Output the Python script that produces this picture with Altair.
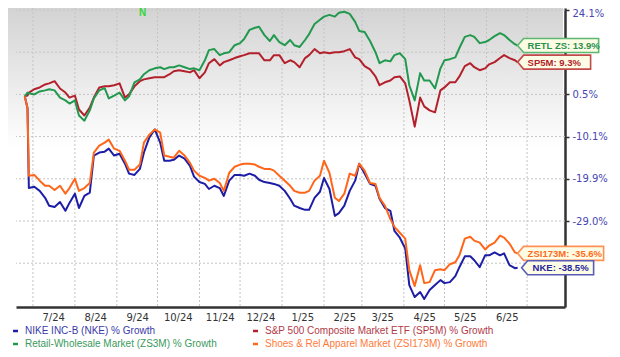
import altair as alt
import pandas as pd

# ---------------- data ----------------
DATES = [
    "2024-06-25", "2024-06-27", "2024-06-28",
    "2024-07-02", "2024-07-06", "2024-07-10", "2024-07-13", "2024-07-17", "2024-07-21", "2024-07-25", "2024-07-28",
    "2024-08-01", "2024-08-04", "2024-08-08", "2024-08-12", "2024-08-15", "2024-08-19", "2024-08-23", "2024-08-26", "2024-08-30",
    "2024-09-03", "2024-09-07", "2024-09-10", "2024-09-14", "2024-09-18", "2024-09-21", "2024-09-25", "2024-09-29",
    "2024-10-03", "2024-10-06", "2024-10-10", "2024-10-13", "2024-10-17", "2024-10-21", "2024-10-25", "2024-10-28",
    "2024-11-01", "2024-11-05", "2024-11-08", "2024-11-12", "2024-11-16", "2024-11-19", "2024-11-23", "2024-11-27",
    "2024-12-01", "2024-12-04", "2024-12-08", "2024-12-12", "2024-12-15", "2024-12-19", "2024-12-23", "2024-12-26", "2024-12-30",
    "2025-01-03", "2025-01-07", "2025-01-10", "2025-01-14", "2025-01-18", "2025-01-21", "2025-01-25", "2025-01-29",
    "2025-02-01", "2025-02-05", "2025-02-09", "2025-02-12", "2025-02-16", "2025-02-20", "2025-02-24", "2025-02-27",
    "2025-03-03", "2025-03-07", "2025-03-11", "2025-03-14", "2025-03-18", "2025-03-22", "2025-03-25", "2025-03-29",
    "2025-04-02", "2025-04-05", "2025-04-09", "2025-04-13", "2025-04-16", "2025-04-20", "2025-04-24", "2025-04-28",
    "2025-05-01", "2025-05-05", "2025-05-09", "2025-05-12", "2025-05-16", "2025-05-20", "2025-05-23", "2025-05-27", "2025-05-31",
    "2025-06-03", "2025-06-07", "2025-06-11", "2025-06-14", "2025-06-18", "2025-06-22",
    "2025-06-24",
]

ZS3M = [
    0.0, 1.0, 0.8,
    0.5, 1.3, 1.6, 1.9, 1.6, -0.3, -1.0, -1.8,
    -1.0, -4.8, -6.1, -3.5, -0.5, 1.6, 2.2, -0.5, 0.2,
    1.0, -1.0, 0.0, 3.8, 4.6, 6.0, 7.1, 7.6,
    7.9, 7.4, 7.9, 7.9, 8.4, 7.9, 7.4, 7.6,
    7.1, 9.8, 12.6, 12.9, 11.2, 11.7, 12.0, 14.0,
    14.6, 15.8, 18.4, 19.0, 19.3, 16.9, 15.2, 16.9, 14.9,
    14.0, 15.5, 14.0, 13.5, 15.5, 17.2, 20.1, 21.3,
    22.2, 22.7, 22.2, 23.3, 23.6, 23.0, 20.7, 18.1,
    17.8, 15.2, 12.0, 9.0, 9.8, 9.5, 11.2, 11.7,
    10.1, 3.0, -1.0, 6.3, 4.3, 4.3, 2.1, 7.6,
    9.8, 10.1, 10.6, 13.2, 16.4, 16.9, 16.4, 14.6, 14.9,
    15.5, 16.6, 17.5, 16.9, 15.5, 14.3,
    13.9,
]

SP5M = [
    0.0, 0.2, 1.0,
    1.9, 2.4, 3.2, 3.5, 4.1, 2.1, 1.0, -0.3,
    0.2, -3.3, -4.8, -2.8, -0.3, 2.4, 2.7, 2.7, 3.0,
    3.5, -0.3, 0.5, 2.7, 4.1, 4.6, 4.9, 5.2,
    5.2, 5.2, 6.0, 6.8, 7.1, 6.8, 6.5, 7.1,
    4.9, 6.5, 9.0, 10.1, 8.4, 9.3, 9.8, 10.4,
    10.9, 11.2, 11.7, 11.7, 11.7, 9.8, 9.8, 11.2, 11.2,
    9.0, 9.8, 9.3, 7.9, 10.4, 11.2, 12.9, 11.7,
    12.0, 11.7, 12.0, 12.0, 12.3, 12.9, 10.6, 10.1,
    8.2, 7.3, 5.4, 3.0, 3.8, 4.3, 5.2, 5.4,
    3.5, -1.0, -7.6, -0.3, -2.5, -3.5, -4.0, 1.6,
    2.4, 3.8, 3.8, 5.4, 8.2, 9.0, 7.9, 7.1, 7.6,
    8.7, 9.3, 10.4, 11.2, 10.4, 9.8,
    9.3,
]

ZSI173M = [
    0.0, -3.0, -19.2,
    -19.0, -20.3, -21.4, -21.4, -22.3, -21.4, -23.1, -21.9,
    -19.9, -22.5, -21.9, -20.8, -13.8, -12.2, -11.5, -10.8, -12.9,
    -13.4, -15.7, -17.8, -17.8, -16.6, -11.5, -9.6, -8.3,
    -9.1, -14.5, -14.8, -15.0, -13.4, -14.5, -16.2, -18.0,
    -19.2, -19.7, -20.3, -19.9, -20.8, -22.5, -18.5, -17.1,
    -16.6, -16.4, -16.4, -16.6, -17.1, -17.6, -17.6, -18.0, -19.2,
    -20.3, -21.4, -22.5, -22.9, -22.9, -22.5, -20.3, -19.2,
    -15.7, -18.5, -24.0, -24.7, -23.1, -18.7, -19.2, -16.4,
    -18.0, -20.8, -21.0, -24.0, -25.7, -28.6, -30.2, -31.4,
    -32.6, -39.0, -42.2, -38.0, -41.6, -41.4, -39.0, -38.8,
    -39.0, -37.8, -37.4, -36.0, -32.6, -32.2, -33.0, -33.4, -34.8,
    -34.0, -33.4, -32.0, -32.4, -33.6, -35.4,
    -35.6,
]

NKE = [
    0.0, -3.0, -21.9,
    -21.6, -22.5, -24.0, -25.7, -26.0, -24.9, -26.8, -25.1,
    -23.1, -26.2, -23.6, -22.9, -14.5, -13.8, -13.6, -12.9, -14.5,
    -14.1, -16.4, -18.7, -19.0, -17.6, -13.8, -10.3, -8.3,
    -11.5, -15.7, -15.7, -15.5, -14.5, -15.2, -16.9, -19.4,
    -20.6, -21.0, -22.1, -21.4, -21.9, -23.6, -20.3, -19.0,
    -19.0, -19.2, -18.7, -19.2, -20.1, -20.6, -20.8, -21.0, -21.4,
    -22.5, -24.2, -25.7, -26.2, -26.6, -26.6, -24.0, -22.7,
    -19.7, -22.1, -27.9, -27.3, -25.7, -22.5, -20.3, -16.4,
    -18.7, -21.0, -21.4, -24.2, -26.2, -26.8, -31.0, -32.4,
    -34.6, -42.0, -44.4, -43.4, -44.8, -43.0, -42.0, -41.0,
    -41.6, -41.4, -40.2, -38.4, -36.2, -36.2, -37.0, -38.4, -36.0,
    -36.0, -35.4, -36.0, -35.6, -38.0, -38.6,
    -38.5,
]

SERIES = ["NKE", "SP5M", "ZS3M", "ZSI173M"]
LEGEND_LABELS = [
    "NIKE INC-B (NKE) % Growth",
    "S&P 500 Composite Market ETF (SP5M) % Growth",
    "Retail-Wholesale Market (ZS3M) % Growth",
    "Shoes & Rel Apparel Market (ZSI173M) % Growth",
]
Y_TICKS = [24.1, 12.0, 0.5, -10.1, -19.9, -29.0, -37.6]          # gridlines
Y_LABELS = [24.1, 0.5, -10.1, -19.9, -29.0]                        # labels not hidden by boxes
MONTH_STARTS = ["2024-07-01", "2024-08-01", "2024-09-01", "2024-10-01", "2024-11-01", "2024-12-01",
                "2025-01-01", "2025-02-01", "2025-03-01", "2025-04-01", "2025-05-01", "2025-06-01", "2025-07-01"]
MONTH_LABELS = [(2024, m) for m in range(7, 13)] + [(2025, m) for m in range(1, 7)]
EVENT_DATES = ["2024-09-20"]
EVENT_TEXT = ["N"]

# ---------------- styles ----------------
LINE_COLORS = {"NKE": "#1d1da6", "SP5M": "#b3202c", "ZS3M": "#22994f", "ZSI173M": "#ff661a"}
BOX_BORDER = {"NKE": "#5a5ab8", "SP5M": "#c24a4a", "ZS3M": "#5cb870", "ZSI173M": "#ff9055"}
BOX_TEXT = {"NKE": "#25259e", "SP5M": "#b01e2a", "ZS3M": "#2a9050", "ZSI173M": "#ff6a1c"}
LEGEND_COLORS = {"NKE": "#3a3aa8", "SP5M": "#b23a48", "ZS3M": "#3c9a5c", "ZSI173M": "#ff7a3a"}
BOX_GEOM = {  # (tip offset, right edge, text dx)
    "NKE": (4, 76, 15),
    "SP5M": (0, 73, 10),
    "ZS3M": (0, 81, 10),
    "ZSI173M": (0, 86, 10),
}

W, H = 549, 299
FONT = "DejaVu Sans"
SANS = "Liberation Sans"

values = {"NKE": NKE, "SP5M": SP5M, "ZS3M": ZS3M, "ZSI173M": ZSI173M}
frames = []
for s in SERIES:
    frames.append(pd.DataFrame({"date": DATES, "value": values[s], "series": s}))
df = pd.concat(frames, ignore_index=True)

# scales
x_scale = alt.Scale(
    type="utc",
    domain=[alt.DateTime(year=2024, month=6, date=18, hours=12, utc=True),
            alt.DateTime(year=2025, month=7, date=29, utc=True)],
)
step = 42.2
y_dom = [-46.4] + Y_TICKS[::-1] + [24.7]
y_rng = [H] + [2 + step * i for i in reversed(range(len(Y_TICKS)))] + [0]
y_scale = alt.Scale(domain=y_dom, range=y_rng, zero=False, nice=False)

x_axis = alt.Axis(
    values=[alt.DateTime(year=y, month=m, date=16, utc=True) for (y, m) in MONTH_LABELS],
    labelExpr="utcFormat(datum.value, '%-m/%y')",
    grid=False, ticks=False, domain=True, domainColor="#333333", domainWidth=2.5,
    labelFont=FONT, labelFontSize=10, labelColor="#333333", labelPadding=5,
    labelFlush=False, labelOverlap=False, title=None,
)
y_axis = alt.Axis(
    orient="right", values=Y_LABELS,
    labelExpr="(datum.value < 0 ? '-' : '') + format(abs(datum.value), '.1f') + '%'",
    labelOffset={"condition": {"test": "datum.value > 20", "value": 3}, "value": 0},
    grid=False, domainColor="#333333", domainWidth=2.5,
    tickColor="#333333", tickSize=4, tickWidth=1.5,
    labelColor="#4646b4", labelFont=FONT, labelFontSize=10, labelPadding=3,
    labelFlush=False, labelOverlap=False, title=None,
)

one = pd.DataFrame({"k": [0]})

# background gradient at the top
bg = alt.Chart(one).mark_rect(
    fill=alt.Gradient(
        gradient="linear",
        stops=[alt.GradientStop(color="#d3d3d3", offset=0),
               alt.GradientStop(color="#ffffff", offset=1)],
        x1=0, x2=0, y1=0, y2=1,
    )
).encode(x=alt.value(-8), x2=alt.value(W - 2), y=alt.value(0), y2=alt.value(140))

grid_style = dict(color="#c4c4c4", strokeDash=[2, 2], strokeWidth=1)
vgrid = alt.Chart(pd.DataFrame({"d": MONTH_STARTS})).mark_rule(**grid_style).encode(
    x=alt.X("d:T", scale=x_scale, axis=x_axis)
)
hgrid = alt.Chart(pd.DataFrame({"v": Y_TICKS})).mark_rule(**grid_style).encode(
    y=alt.Y("v:Q", scale=y_scale, axis=y_axis)
)

layers = [bg, vgrid, hgrid]
for s in ["NKE", "SP5M", "ZS3M", "ZSI173M"]:
    layers.append(
        alt.Chart(df[df.series == s]).mark_line(
            color=LINE_COLORS[s], strokeWidth=2, strokeJoin="round"
        ).encode(
            x=alt.X("date:T", scale=x_scale, axis=x_axis),
            y=alt.Y("value:Q", scale=y_scale, axis=y_axis),
        )
    )


def fmt(v):
    return ("-" if v < 0 else "") + f"{abs(v):.1f}"


for s, name in [("ZS3M", "RETL ZS"), ("SP5M", "SP5M"), ("ZSI173M", "ZSI173M"), ("NKE", "NKE")]:
    last = pd.DataFrame({"date": [DATES[-1]], "value": [values[s][-1]],
                         "label": [f"{name}: {fmt(values[s][-1])}%"]})
    o, r, dx = BOX_GEOM[s]
    path = f"M{o},0L{o + 6},-7L{r},-7L{r},7L{o + 6},7Z"
    enc = dict(x=alt.X("date:T", scale=x_scale, axis=x_axis),
               y=alt.Y("value:Q", scale=y_scale, axis=y_axis))
    layers.append(
        alt.Chart(last).mark_point(
            shape=path, size=4, filled=True, fill="#fdfde6", stroke=BOX_BORDER[s],
            strokeWidth=1.6, opacity=1, fillOpacity=1, strokeOpacity=1,
        ).encode(**enc)
    )
    layers.append(
        alt.Chart(last).mark_text(
            align="left", baseline="middle", dx=dx, dy=0.5, font=SANS, fontWeight="bold",
            fontSize=9.5, color=BOX_TEXT[s],
        ).encode(text="label:N", **enc)
    )

# event marker
layers.append(
    alt.Chart(pd.DataFrame({"d": EVENT_DATES, "t": EVENT_TEXT})).mark_text(
        baseline="top", align="center", font=SANS, fontWeight="bold", fontSize=10, color="#33d633"
    ).encode(x=alt.X("d:T", scale=x_scale, axis=x_axis), y=alt.value(0), text="t:N")
)

# legend (two columns, two rows)
legend_pos = {"NKE": (0, 0), "SP5M": (1, 0), "ZS3M": (0, 1), "ZSI173M": (1, 1)}
for s, lab in zip(SERIES, LEGEND_LABELS):
    c, r = legend_pos[s]
    x0 = -3 + c * 240
    yy = 323 + r * 13
    layers.append(
        alt.Chart(one).mark_rule(color=LINE_COLORS[s], strokeWidth=2.5).encode(
            x=alt.value(x0), x2=alt.value(x0 + 5), y=alt.value(yy)
        )
    )
    layers.append(
        alt.Chart(one).mark_text(
            align="left", baseline="middle", font=SANS, fontSize=10, color=LEGEND_COLORS[s]
        ).encode(x=alt.value(x0 + 12), y=alt.value(yy), text=alt.value(lab))
    )

chart = alt.layer(*layers).properties(
    width=W, height=H,
    padding={"left": 8, "top": 0, "right": 47, "bottom": 42},
    autosize=alt.AutoSizeParams(type="none"),
).configure_view(stroke=None)

chart.save("out.html", embed_options={"renderer": "svg", "actions": False})
